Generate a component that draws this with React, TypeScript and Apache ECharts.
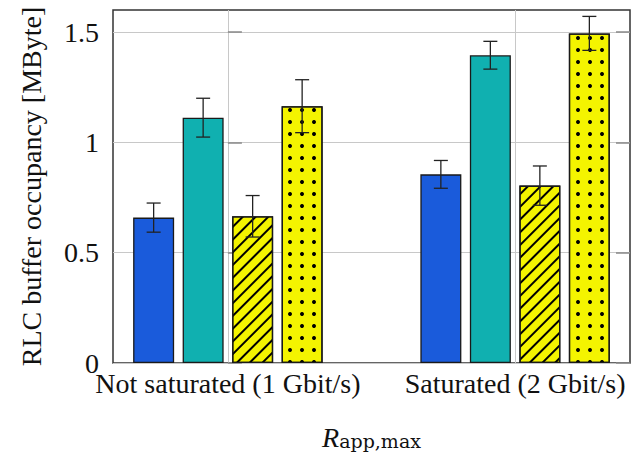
import React, { useEffect, useRef } from "react";
import * as echarts from "echarts";

const CATEGORIES = ["Not saturated (1 Gbit/s)", "Saturated (2 Gbit/s)"];
const CATEGORY_POS = [0, 1];
const Y_TICKS = [0, 0.5, 1, 1.5];

const BLUE_VALUES = [0.659, 0.855];
const BLUE_ERR = [0.066, 0.063];
const TEAL_VALUES = [1.112, 1.395];
const TEAL_ERR = [0.088, 0.063];
const HATCH_VALUES = [0.665, 0.804];
const HATCH_ERR = [0.094, 0.089];
const DOT_VALUES = [1.164, 1.494];
const DOT_ERR = [0.12, 0.077];

const FONT = "Liberation Serif";
const BAR_W = 41;
const BAR_GAP_PX = 8.5;
const PITCH = BAR_W + BAR_GAP_PX;

export default function App() {
  const ref = useRef<HTMLDivElement>(null);
  useEffect(() => {
    if (!ref.current) return;
    const chart = echarts.init(ref.current, undefined, { renderer: "svg" });
    const groups = [
      { name: "blue", values: BLUE_VALUES, err: BLUE_ERR, color: "#1a5bdb", decal: null as any },
      { name: "teal", values: TEAL_VALUES, err: TEAL_ERR, color: "#10b0b0", decal: null as any },
      {
        name: "hatch", values: HATCH_VALUES, err: HATCH_ERR, color: "#f4f400",
        decal: { symbol: "rect", symbolSize: 1, symbolKeepAspect: false, dashArrayX: [1, 0], dashArrayY: [1.3, 6.7], rotation: -Math.PI / 4, color: "#000" },
      },
      {
        name: "dots", values: DOT_VALUES, err: DOT_ERR, color: "#f4f400",
        decal: { symbol: "circle", symbolSize: 1, dashArrayX: [3.4, 7.9], dashArrayY: [3.4, 7.9], color: "#000" },
      },
    ];
    const barSeries = groups.map((g) => ({
      type: "bar",
      name: g.name,
      barWidth: BAR_W,
      barGap: (BAR_GAP_PX / BAR_W) * 100 + "%",
      data: CATEGORY_POS.map((x, i) => [x, g.values[i]]),
      itemStyle: {
        color: g.color,
        borderColor: "#1a1a1a",
        borderWidth: 1.3,
        ...(g.decal ? { decal: g.decal } : {}),
      },
      z: 3,
    }));
    const errData: number[][] = [];
    groups.forEach((g, k) => {
      CATEGORY_POS.forEach((x, i) => errData.push([x, g.values[i], g.err[i], k]));
    });
    const errSeries = {
      type: "custom",
      z: 10,
      encode: { x: 0, y: 1 },
      data: errData,
      renderItem: (params: any, api: any) => {
        const x = api.value(0);
        const v = api.value(1);
        const e = api.value(2);
        const k = api.value(3);
        const base = api.coord([x, v]);
        const hi = api.coord([x, v + e]);
        const lo = api.coord([x, v - e]);
        const cx = base[0] + (k - 1.5) * PITCH;
        const st = { stroke: "#222", lineWidth: 1.3 };
        const cap = 7;
        return {
          type: "group",
          children: [
            { type: "line", shape: { x1: cx, y1: hi[1], x2: cx, y2: lo[1] }, style: st },
            { type: "line", shape: { x1: cx - cap, y1: hi[1], x2: cx + cap, y2: hi[1] }, style: st },
            { type: "line", shape: { x1: cx - cap, y1: lo[1], x2: cx + cap, y2: lo[1] }, style: st },
          ],
        };
      },
    };
    chart.setOption({
      animation: false,
      backgroundColor: "#fff",
      grid: { left: 113, right: 8, top: 10, bottom: 96, show: true, borderColor: "#333", borderWidth: 1.5, containLabel: false },
      xAxis: {
        type: "value",
        min: -0.4,
        max: 1.4,
        axisLine: { show: false },
        axisTick: { show: false, customValues: CATEGORY_POS },
        axisLabel: {
          customValues: CATEGORY_POS,
          formatter: (v: number) => CATEGORIES[Math.round(v)],
          fontFamily: FONT,
          fontSize: 28,
          color: "#111",
          margin: 6,
        },
        splitLine: { show: true, lineStyle: { color: "#c8c8c8", width: 1 } },
        name: "{r|R}{s|app,max}",
        nameLocation: "middle",
        nameGap: 60,
        nameTextStyle: {
          rich: {
            r: { fontFamily: FONT, fontStyle: "italic", fontSize: 28, color: "#111" },
            s: { fontFamily: "DejaVu Serif", fontSize: 19, color: "#111", padding: [8, 0, 0, 0] },
          },
        },
      },
      yAxis: [
        {
          type: "value",
          min: 0,
          max: 1.6,
          interval: 0.5,
          axisLine: { show: false },
          axisTick: { show: true, inside: true, length: 14, customValues: Y_TICKS, lineStyle: { color: "#888", width: 1.5 } },
          axisLabel: { customValues: Y_TICKS, fontFamily: FONT, fontSize: 28, color: "#111", margin: 14 },
          splitLine: { show: true, lineStyle: { color: "#c8c8c8", width: 1 } },
          name: "RLC buffer occupancy [MByte]",
          nameLocation: "middle",
          nameGap: 68,
          nameTextStyle: { fontFamily: FONT, fontSize: 28, color: "#111" },
        },
        {
          type: "value",
          position: "right",
          min: 0,
          max: 1.6,
          interval: 0.5,
          axisLine: { show: false },
          axisTick: { show: true, inside: true, length: 14, customValues: Y_TICKS, lineStyle: { color: "#888", width: 1.5 } },
          axisLabel: { show: false },
          splitLine: { show: false },
        },
      ],
      series: [...barSeries, errSeries],
    });
    return () => chart.dispose();
  }, []);
  return (
    <div
      ref={ref}
      style={{ position: "absolute", left: 0, top: 0, width: 638, height: 459, background: "#fff" }}
    />
  );
}
